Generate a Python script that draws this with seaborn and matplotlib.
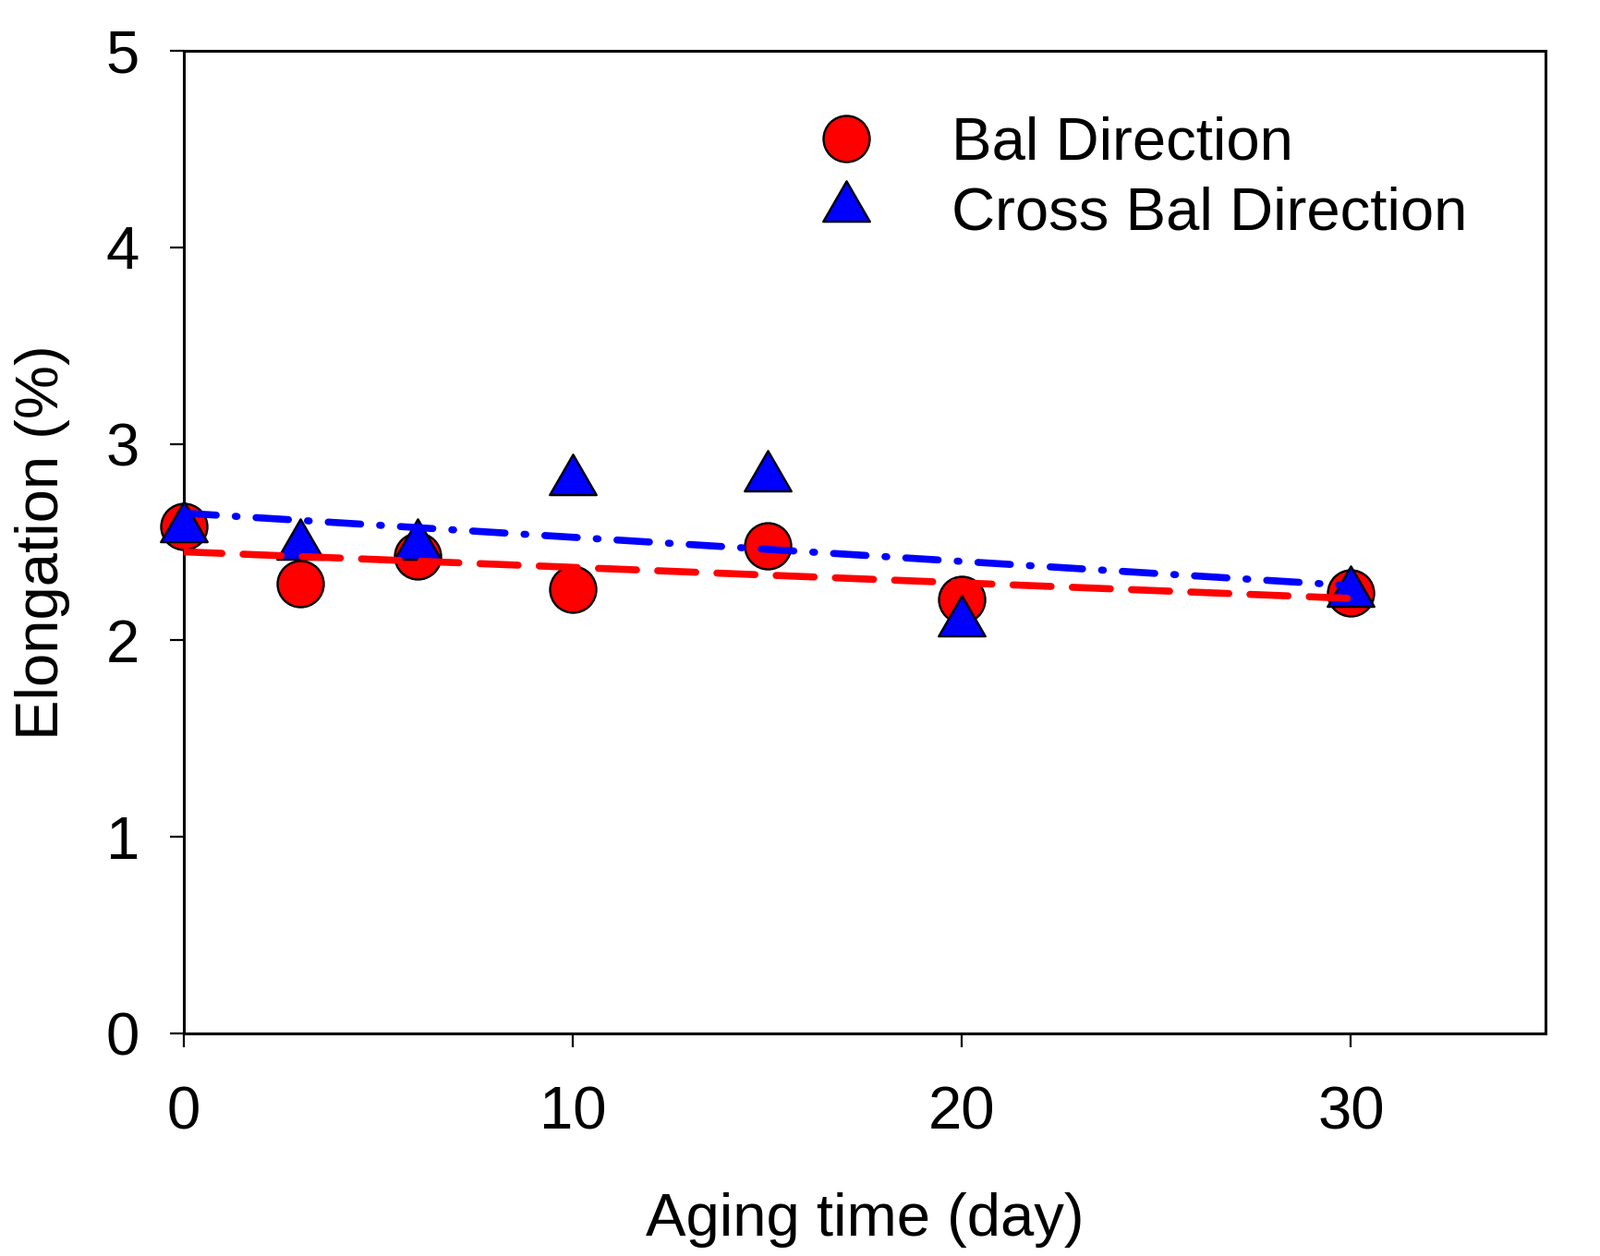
import numpy as np
import pandas as pd
import matplotlib
matplotlib.use("Agg")
import matplotlib.pyplot as plt
from matplotlib.path import Path
from matplotlib.lines import Line2D
import seaborn as sns

# ---- data ----
aging_days = [0, 3, 6, 10, 15, 20, 30]
bal_direction = [2.58, 2.29, 2.43, 2.26, 2.48, 2.21, 2.24]
cross_bal_direction = [2.57, 2.48, 2.48, 2.81, 2.83, 2.09, 2.24]
series_labels = ["Bal Direction", "Cross Bal Direction"]
x_ticks = [0, 10, 20, 30]
y_ticks = [0, 1, 2, 3, 4, 5]

sns.set_theme(style="ticks")
plt.rcParams["font.family"] = ["Liberation Sans", "DejaVu Sans"]
plt.rcParams.update({"text.color": "black", "axes.labelcolor": "black",
                     "xtick.color": "black", "ytick.color": "black"})

FS = 47
fig = plt.figure(figsize=(17.32, 13.6), dpi=100)
ax = fig.add_axes([0.1149, 0.1772, 0.9659 - 0.1149, 0.9596 - 0.1772])

# equilateral triangle with centroid at the marker centre
tri = Path([(0, 1), (-0.866, -0.5), (0.866, -0.5), (0, 1)],
           [Path.MOVETO, Path.LINETO, Path.LINETO, Path.CLOSEPOLY])

df_bal = pd.DataFrame({"x": aging_days, "y": bal_direction})
df_cross = pd.DataFrame({"x": aging_days, "y": cross_bal_direction})

sns.scatterplot(data=df_bal, x="x", y="y", ax=ax, marker="o", s=36 ** 2,
                color="#ff0000", edgecolor="black", linewidth=1.7,
                zorder=3, clip_on=False, legend=False)
sns.scatterplot(data=df_cross, x="x", y="y", ax=ax, marker=tri, s=42 ** 2,
                color="#0000ff", edgecolor="black", linewidth=1.7,
                zorder=4, clip_on=False, legend=False)

sns.regplot(data=df_bal, x="x", y="y", ax=ax, scatter=False, ci=None,
            line_kws=dict(color="#ff0000", lw=5.5, dashes=(5.4, 3.0),
                          dash_capstyle="round", zorder=5))
sns.regplot(data=df_cross, x="x", y="y", ax=ax, scatter=False, ci=None,
            line_kws=dict(color="#0000ff", lw=5.5, dashes=(4.6, 2.7, 0.25, 2.7),
                          dash_capstyle="round", zorder=6))

ax.set_xlim(0, 35)
ax.set_ylim(0, 5)
ax.set_xticks(x_ticks)
ax.set_yticks(y_ticks)
ax.set_xticklabels([str(v) for v in x_ticks], fontsize=FS)
ax.set_yticklabels([str(v) for v in y_ticks], fontsize=FS)
ax.tick_params(axis="both", direction="out", length=10.5, width=1.6,
               color="black", labelcolor="black")
ax.tick_params(axis="x", pad=30)
ax.tick_params(axis="y", pad=24)
for sp in ax.spines.values():
    sp.set_visible(True)
    sp.set_linewidth(2.2)
    sp.set_color("black")

ax.set_xlabel("Aging time (day)", fontsize=FS, labelpad=40, color="black")
ax.set_ylabel("Elongation (%)", fontsize=FS, labelpad=28, color="black")

handles = [
    Line2D([], [], linestyle="none", marker="o", markersize=36,
           markerfacecolor="#ff0000", markeredgecolor="black", markeredgewidth=1.7),
    Line2D([], [], linestyle="none", marker=tri, markersize=42,
           markerfacecolor="#0000ff", markeredgecolor="black", markeredgewidth=1.7),
]
leg = fig.legend(handles, series_labels, loc="upper left",
                 bbox_to_anchor=(0.510, 0.9078), frameon=False, fontsize=FS,
                 handlelength=1.0, handletextpad=1.24, labelspacing=0.24,
                 borderpad=0, borderaxespad=0)
for t in leg.get_texts():
    t.set_color("black")

fig.savefig("out.png", dpi=100, facecolor="white")
